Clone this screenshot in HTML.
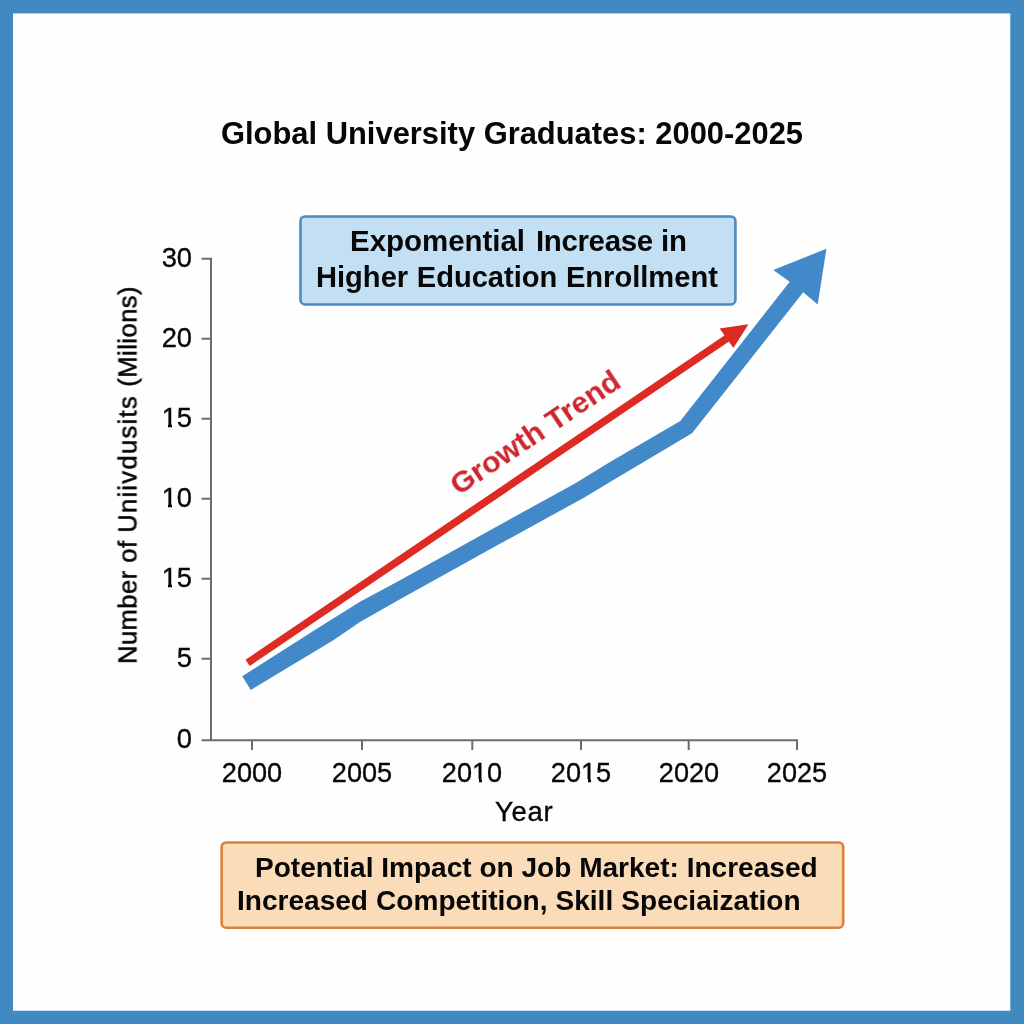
<!DOCTYPE html>
<html>
<head>
<meta charset="utf-8">
<title>Global University Graduates: 2000-2025</title>
<style>
  html, body { margin: 0; padding: 0; }
  body {
    width: 1024px; height: 1024px; overflow: hidden;
    background: #4189c1;
    font-family: "Liberation Sans", sans-serif;
    color: #070707;
    position: relative;
  }
  .t { position: absolute; white-space: nowrap; line-height: 1; margin: 0; will-change: transform; }
  #title { left: 220.5px; top: 119.2px; font-size: 30.9px; font-weight: bold; }

  .bb { font-size: 29.1px; font-weight: bold; }
  #bb1 { font-size: 29.45px; left: 350px; top: 226.4px; }
  #bb1 .inc { margin-left: 2.8px; letter-spacing: -0.35px; }
  #bb2 { left: 316.3px; top: 262.7px; word-spacing: 0.5px; }

  .ob { font-size: 28.05px; font-weight: bold; }
  #ob1 { left: 254.6px; top: 853.6px; }
  #ob2 { left: 236.8px; top: 887.2px; word-spacing: 0.3px; }

  .yt { font-size: 27.3px; width: 60px; text-align: right; left: 132.4px; }
  .yt, .xt, #xlabel, #ylabel { -webkit-text-stroke: 0.35px #070707; }
  .xt { font-size: 27.1px; width: 80px; text-align: center; }
  #xlabel { font-size: 27.5px; letter-spacing: 0.7px; left: 495px; top: 798.3px; }
  #ylabel {
    font-size: 25.5px; left: 141.3px; top: 664.2px; letter-spacing: 0.5px;
    transform-origin: 0 0; transform: rotate(-90deg) translateY(-100%);
  }
  #ylabel { -webkit-text-stroke-width: 0.55px; }
  #ylabel .w2 { letter-spacing: 1.32px; }
  #ylabel .w3 { letter-spacing: 0.48px; }
  #growth {
    font-size: 30.4px; font-weight: bold; color: #cc2630;
    left: 458.4px; top: 494.5px;
    transform-origin: 0 0; transform: rotate(-33.8deg) translateY(-0.82em);
  }
  .m { position: absolute; background: #fefefe; will-change: transform; }
  svg { position: absolute; left: 0; top: 0; }
</style>
</head>
<body>
<svg width="1024" height="1024" viewBox="0 0 1024 1024">
  <!-- white paper inside blue frame -->
  <rect x="13" y="13.4" width="997.3" height="997.35" fill="#fefefe"/>
  <!-- annotation boxes -->
  <rect x="300.5" y="216.45" width="434.9" height="88.05" rx="4.5" ry="4.5" fill="#c3dff4" stroke="#4a8cc3" stroke-width="2.6"/>
  <rect x="221.65" y="842.45" width="621.55" height="85.25" rx="4.5" ry="4.5" fill="#fbdcb9" stroke="#dd8138" stroke-width="2.6"/>
  <!-- axes -->
  <g stroke="#6c6c6c" stroke-width="2" fill="none">
    <path d="M201.5 258.75 H211 V740.3"/>
    <path d="M201.5 740.3 H797 V750"/>
    <path d="M201.5 338.75 H211 M201.5 418.75 H211 M201.5 498.75 H211 M201.5 578.75 H211 M201.5 658.75 H211"/>
    <path d="M252 740 V750 M362 740 V750 M472.3 740 V750 M581 740 V750 M688.7 740 V750"/>
  </g>
  <!-- blue series -->
  <polygon fill="#4189c8" points="242.25,676.3 320,626.8 360,601.8 400,580.3 500,524.7 575,483.4 610,462 680.3,421 789.7,281.7 773.3,270 826.4,248.7 817.7,304.6 803.2,292.25 692,433.3 610,482 584.4,497.4 500,543.8 400,599.2 360,622.1 333.7,640 250.8,690"/>
  <!-- red trend -->
  <line x1="247.6" y1="662.9" x2="728" y2="337.6" stroke="#dd2a22" stroke-width="7.5"/>
  <polygon points="748.5,324.2 719.6,328.6 733.4,348.1" fill="#dd2a22"/>
</svg>

<div id="title" class="t">Global University Graduates: 2000-2025</div>

<div id="bb1" class="t bb">Expomential <span class="inc">Increase</span> in</div>
<div id="bb2" class="t bb">Higher Education Enrollment</div>


<div class="t yt" style="top:243.9px">30</div>
<div class="t yt" style="top:323.9px">20</div>
<div class="t yt" style="top:403.9px">15</div>
<div class="t yt" style="top:483.9px">10</div>
<div class="t yt" style="top:563.9px">15</div>
<div class="t yt" style="top:643.9px">5</div>
<div class="t yt" style="top:725px">0</div>

<div class="t xt" style="left:212px;top:759.4px">2000</div>
<div class="t xt" style="left:322px;top:759.4px">2005</div>
<div class="t xt" style="left:432px;top:759.4px">2010</div>
<div class="t xt" style="left:541px;top:759.4px">2015</div>
<div class="t xt" style="left:649px;top:759.4px">2020</div>
<div class="t xt" style="left:757px;top:759.4px">2025</div>

<!-- hide the foot serif of the font's digit 1 (target uses a footless 1) -->
<div class="m" style="left:162px;top:423.5px;width:6px;height:5px"></div>
<div class="m" style="left:172px;top:423.5px;width:5px;height:5px"></div>
<div class="m" style="left:162px;top:503.5px;width:6px;height:5px"></div>
<div class="m" style="left:172px;top:503.5px;width:5px;height:5px"></div>
<div class="m" style="left:162px;top:583.5px;width:6px;height:5px"></div>
<div class="m" style="left:172px;top:583.5px;width:5px;height:5px"></div>
<div class="m" style="left:472.5px;top:778.5px;width:5.5px;height:5px"></div>
<div class="m" style="left:482.0px;top:778.5px;width:5px;height:5px"></div>
<div class="m" style="left:581.5px;top:778.5px;width:5.5px;height:5px"></div>
<div class="m" style="left:591.0px;top:778.5px;width:5px;height:5px"></div>

<div id="xlabel" class="t">Year</div>
<div id="ylabel" class="t">Number of <span class="w2">Uniivdusits </span><span class="w3">(Milions)</span></div>
<div id="growth" class="t">Growth Trend</div>

<div id="ob1" class="t ob">Potential Impact on Job Market: Increased</div>
<div id="ob2" class="t ob">Increased Competition, Skill Speciaization</div>
</body>
</html>
